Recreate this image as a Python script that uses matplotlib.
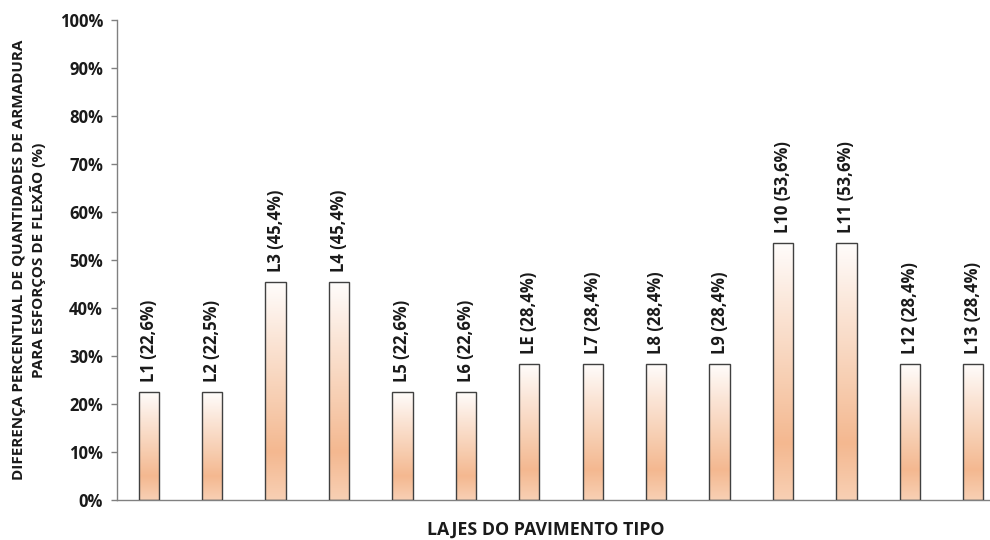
import matplotlib
matplotlib.use("Agg")
import matplotlib.pyplot as plt
import numpy as np
from matplotlib.colors import LinearSegmentedColormap
from matplotlib.ticker import FuncFormatter, MultipleLocator

plt.rcParams['font.family'] = ['Open Sans', 'DejaVu Sans']

lajes = ["L1", "L2", "L3", "L4", "L5", "L6", "LE", "L7", "L8", "L9",
         "L10", "L11", "L12", "L13"]
diferenca = [22.6, 22.5, 45.4, 45.4, 22.6, 22.6, 28.4, 28.4, 28.4, 28.4,
             53.6, 53.6, 28.4, 28.4]

fig = plt.figure(figsize=(9.9, 5.4), dpi=100)
ax = fig.add_axes([117 / 990, 40 / 540, 888 / 990, 480 / 540])

x = np.arange(len(lajes))
bars = ax.bar(x, diferenca, width=0.32, facecolor="none",
              edgecolor="#404040", linewidth=1.0, zorder=3)

# vertical orange-to-white gradient inside each bar
grad_cmap = LinearSegmentedColormap.from_list(
    "laranja",
    [(0.0, "#f8d0b4"), (0.22, "#f4b890"), (0.45, "#f7cdb0"),
     (0.75, "#fbe6d8"), (1.0, "#fffdfc")])
grad = np.linspace(0, 1, 256).reshape(-1, 1)
for b in bars:
    x0, w, h = b.get_x(), b.get_width(), b.get_height()
    ax.imshow(grad, cmap=grad_cmap, origin="lower", aspect="auto",
              extent=(x0, x0 + w, 0, h), zorder=2, interpolation="bicubic")

for xi, nome, v in zip(x, lajes, diferenca):
    ax.text(xi, v + 2.0, f"{nome} ({v:.1f}%)".replace(".", ","),
            rotation=90, ha="center", va="bottom", fontsize=12,
            fontweight="bold", color="#1a1a1a")

ax.set_xlim(-0.5, len(lajes) - 0.5)
ax.set_ylim(0, 100)
ax.yaxis.set_major_locator(MultipleLocator(10))
ax.yaxis.set_major_formatter(FuncFormatter(lambda v, p: f"{v:.0f}%"))
ax.set_xticks([])
ax.tick_params(axis="y", length=4, width=1, color="#808080",
               labelsize=12, pad=6)
for lbl in ax.get_yticklabels():
    lbl.set_fontweight("bold")
    lbl.set_color("#1a1a1a")

for s in ("top", "right"):
    ax.spines[s].set_visible(False)
for s in ("left", "bottom"):
    ax.spines[s].set_color("#808080")
    ax.spines[s].set_linewidth(1.0)

ax.set_ylabel("DIFERENÇA PERCENTUAL DE QUANTIDADES DE ARMADURA\n"
              "PARA ESFORÇOS DE FLEXÃO (%)",
              fontsize=11, fontweight="bold", labelpad=10,
              linespacing=1.3, color="#1a1a1a")
fig.text(546 / 990, 1 - 530 / 540, "LAJES DO PAVIMENTO TIPO", ha="center",
         va="center", fontsize=12.8, fontweight="bold", color="#1a1a1a")

fig.savefig("out.png", dpi=100)
